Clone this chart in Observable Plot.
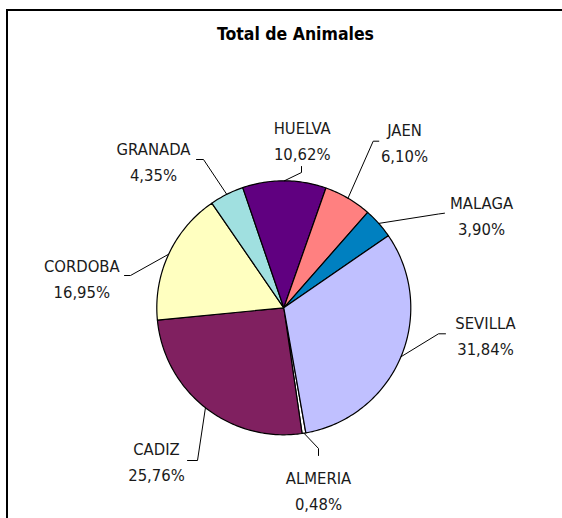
<!DOCTYPE html>
<html><head><meta charset="utf-8">
<script src="https://cdn.jsdelivr.net/npm/d3@7"></script>
<script src="https://cdn.jsdelivr.net/npm/@observablehq/plot@0.6"></script>
<style>
body{margin:0;background:#fff;}
#wrap{position:relative;width:562px;height:518px;overflow:hidden;}
#chart{position:absolute;left:0;top:0;}
#border{position:absolute;left:6px;top:9px;width:700px;height:700px;border-top:2px solid #000;border-left:2px solid #000;pointer-events:none;}
</style></head><body>
<div id="wrap"><div id="chart"></div><div id="border"></div></div>
<script>
// ---- data ----
const categories = ["ALMERIA","CADIZ","CORDOBA","GRANADA","HUELVA","JAEN","MALAGA","SEVILLA"];
const percentages = [0.48, 25.76, 16.95, 4.35, 10.62, 6.10, 3.90, 31.84];
const sliceColors = ["#FFFFFF","#802060","#FFFFC0","#A0E0E0","#600080","#FF8080","#0080C0","#C0C0FF"];
const chartTitle = "Total de Animales";

// ---- layout ----
const W = 562, H = 518;
const cx = 283.3, cy = 307.3, R = 127, startDeg = 170;
const FONT = "'DejaVu Sans Condensed','DejaVu Sans',sans-serif";
// offsets from the pie centre (px): label block centre, leader elbow, leader end
const labelLayout = {
  ALMERIA: {label:[34.7,181],    elbow:[34.7,140.7],   end:[34.7,147.7]},
  CADIZ:   {label:[-127.3,151.7],elbow:[-86.3,152.7],  end:[-96.3,152.7]},
  CORDOBA: {label:[-202,-31],    elbow:[-153.3,-32.3], end:[-159.3,-32.3]},
  GRANADA: {label:[-130.3,-147.7],elbow:[-80.3,-148.3],end:[-87.3,-148.3]},
  HUELVA:  {label:[18.4,-169.6], elbow:[17.7,-135.3],  end:[17.7,-141.3]},
  JAEN:    {label:[120.7,-167],  elbow:[89.4,-166.6],  end:[95,-166.6]},
  MALAGA:  {label:[197.7,-94.3], elbow:[154.7,-93.8],  end:[160.7,-94.6]},
  SEVILLA: {label:[201.7,26.2],  elbow:[154.7,26],     end:[161.7,26]}
};

const rad = d => d * Math.PI / 180;
const pt = (a, r) => [cx + r * Math.sin(a), cy - r * Math.cos(a)];

const arcs = d3.pie().sort(null).value(d => d.value)
  .startAngle(rad(startDeg)).endAngle(rad(startDeg + 360))(
    categories.map((name, i) => ({name, value: percentages[i]})));

const slicePts = [];
const leaderPts = [];
const labels = [];
arcs.forEach(a => {
  const name = a.data.name;
  slicePts.push({name, x: cx, y: cy});
  const n = Math.max(2, Math.ceil((a.endAngle - a.startAngle) / rad(1)));
  for (let k = 0; k <= n; k++) {
    const t = a.startAngle + (a.endAngle - a.startAngle) * k / n;
    const [x, y] = pt(t, R);
    slicePts.push({name, x, y});
  }
  const mid = (a.startAngle + a.endAngle) / 2;
  const L = labelLayout[name];
  const [x0, y0] = pt(mid, R);
  leaderPts.push({name, x: x0, y: y0});
  leaderPts.push({name, x: cx + L.elbow[0], y: cy + L.elbow[1]});
  leaderPts.push({name, x: cx + L.end[0], y: cy + L.end[1]});
  labels.push({name, x: cx + L.label[0], y: cy + L.label[1],
    text: name + "\n" + a.data.value.toFixed(2).replace(".", ",") + "%"});
});

const chart = Plot.plot({
  width: W, height: H,
  margin: 0,
  x: {domain: [0, W], range: [0, W], axis: null},
  y: {domain: [0, H], range: [0, H], axis: null},
  color: {domain: categories, range: sliceColors},
  style: {background: "transparent", fontFamily: FONT},
  marks: [
    Plot.line(slicePts, {x: "x", y: "y", z: "name", fill: "name", stroke: "#000",
      strokeWidth: 1.2, curve: "linear-closed"}),
    Plot.line(leaderPts, {x: "x", y: "y", z: "name", stroke: "#000", strokeWidth: 1}),
    Plot.text(labels, {x: "x", y: "y", text: "text", fontSize: 16.5, lineHeight: 1.58,
      lineAnchor: "middle", textAnchor: "middle", fill: "#1a1a1a", fontFamily: FONT}),
    Plot.text([chartTitle], {frameAnchor: "top", dx: 14, dy: 33.7, lineAnchor: "middle",
      fontSize: 17.5, fontWeight: "bold", fill: "#000", fontFamily: FONT})
  ]
});
document.getElementById("chart").appendChild(chart);
</script>
</body></html>
